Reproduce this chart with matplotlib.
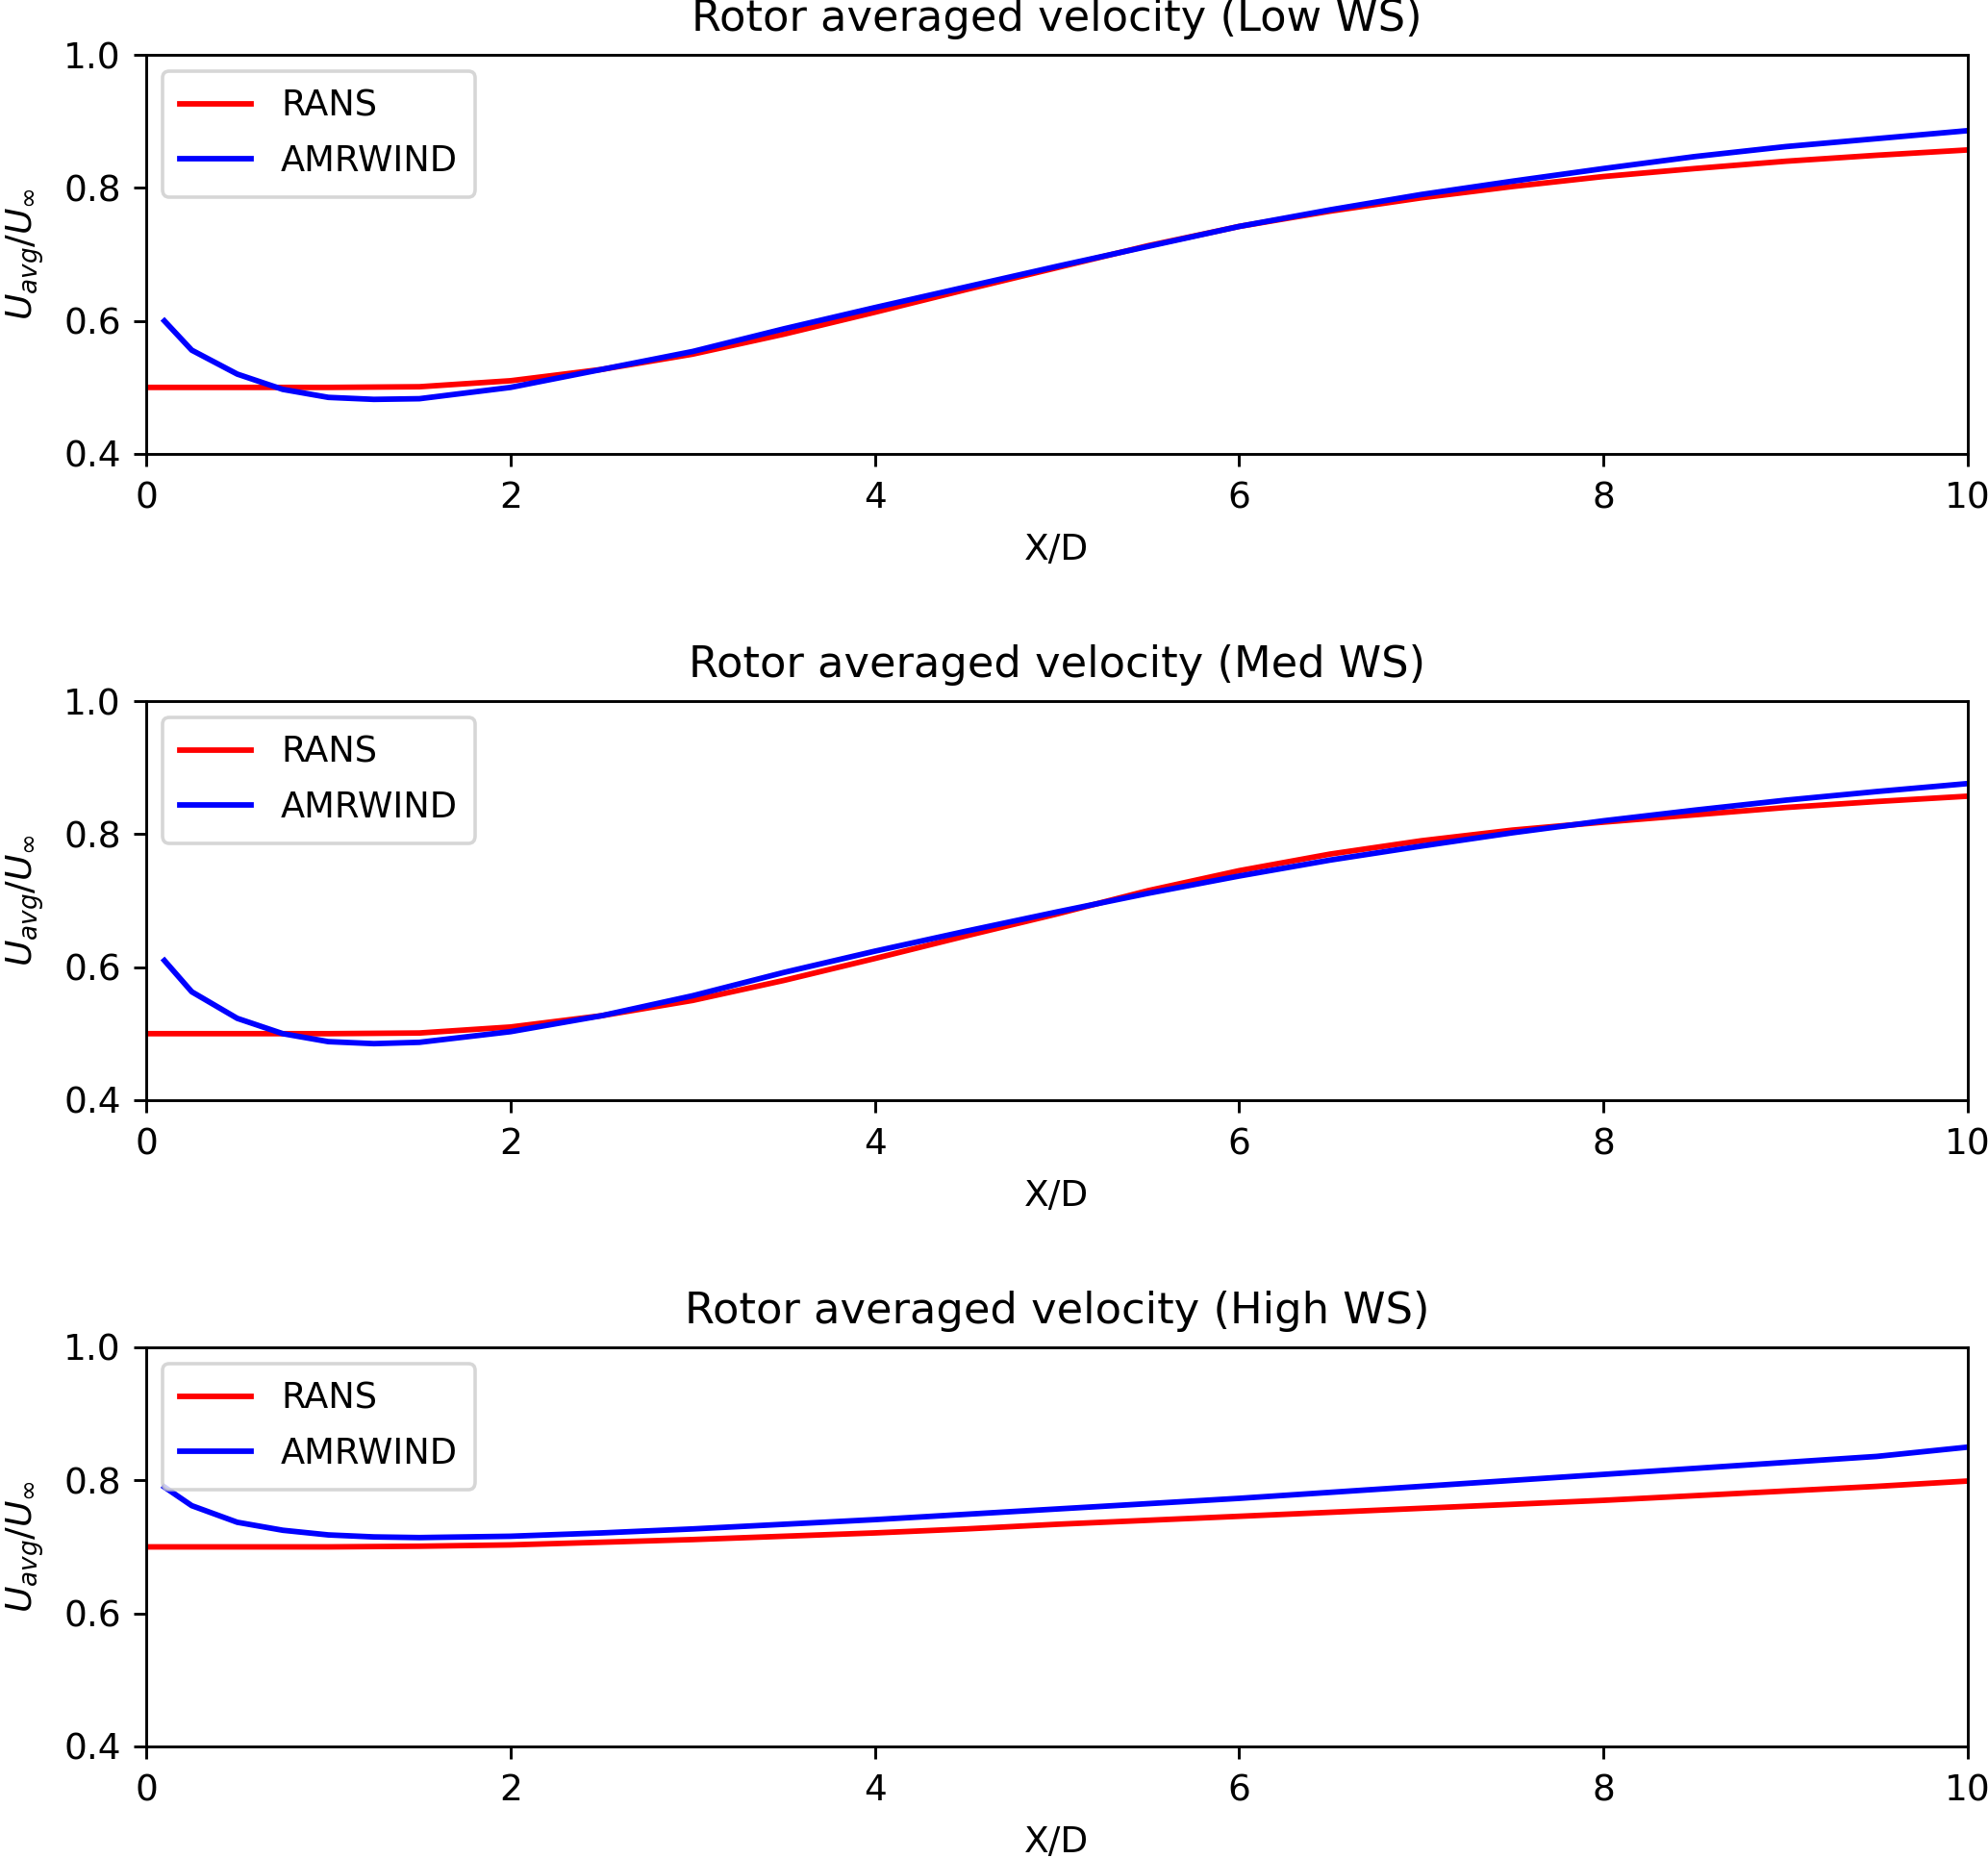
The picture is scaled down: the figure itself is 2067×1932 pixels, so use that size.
import matplotlib
matplotlib.use("Agg")
import matplotlib.pyplot as plt

# ---- data ----
titles = ["Rotor averaged velocity (Low WS)",
          "Rotor averaged velocity (Med WS)",
          "Rotor averaged velocity (High WS)"]

x_rans = [0.0, 0.5, 1.0, 1.5, 2.0, 2.5, 3.0, 3.5, 4.0, 4.5, 5.0, 5.5, 6.0, 6.5, 7.0, 7.5, 8.0, 8.5, 9.0, 9.5, 10.0]
x_amr = [0.1, 0.25, 0.5, 0.75, 1.0, 1.25, 1.5, 2.0, 2.5, 3.0, 3.5, 4.0, 4.5, 5.0, 5.5, 6.0, 6.5, 7.0, 7.5, 8.0, 8.5, 9.0, 9.5, 10.0]

rans_low = [0.500, 0.500, 0.500, 0.501, 0.510, 0.527, 0.550, 0.580, 0.613, 0.647, 0.680, 0.713, 0.742, 0.765, 0.785, 0.802, 0.817, 0.829, 0.840, 0.849, 0.857]
amr_low = [0.600, 0.556, 0.520, 0.497, 0.485, 0.482, 0.483, 0.500, 0.527, 0.554, 0.588, 0.620, 0.651, 0.682, 0.712, 0.742, 0.767, 0.790, 0.810, 0.829, 0.847, 0.862, 0.874, 0.886]

rans_med = [0.500, 0.500, 0.500, 0.501, 0.510, 0.527, 0.550, 0.580, 0.613, 0.647, 0.680, 0.715, 0.745, 0.770, 0.790, 0.806, 0.818, 0.829, 0.840, 0.849, 0.857]
amr_med = [0.610, 0.563, 0.523, 0.500, 0.488, 0.485, 0.487, 0.503, 0.527, 0.557, 0.592, 0.624, 0.654, 0.683, 0.711, 0.737, 0.761, 0.782, 0.802, 0.820, 0.836, 0.851, 0.864, 0.876]

rans_high = [0.700, 0.700, 0.700, 0.701, 0.703, 0.707, 0.711, 0.716, 0.721, 0.727, 0.734, 0.740, 0.746, 0.752, 0.758, 0.764, 0.770, 0.777, 0.784, 0.791, 0.799]
amr_high = [0.790, 0.762, 0.737, 0.725, 0.718, 0.715, 0.714, 0.716, 0.721, 0.727, 0.734, 0.741, 0.749, 0.757, 0.765, 0.773, 0.782, 0.791, 0.800, 0.809, 0.818, 0.827, 0.836, 0.850]

rans_sets = [rans_low, rans_med, rans_high]
amr_sets = [amr_low, amr_med, amr_high]

xticks = [0, 2, 4, 6, 8, 10]
yticks = [0.4, 0.6, 0.8, 1.0]

plt.rcParams["font.size"] = 10.4
plt.rcParams["axes.titlesize"] = 12.4
plt.rcParams["xtick.major.pad"] = 4.3
plt.rcParams["ytick.major.pad"] = 3.8

W, H, DPI = 2067, 1932, 260
fig = plt.figure(figsize=(W / DPI, H / DPI), dpi=DPI)

left = 152 / W
width = (2046 - 152) / W
tops = [57, 729, 1401]
ax_h = 415 / H

for i in range(3):
    bottom = 1 - tops[i] / H - ax_h
    ax = fig.add_axes([left, bottom, width, ax_h])
    ax.plot(x_rans, rans_sets[i], color="red", lw=1.6, label="RANS")
    ax.plot(x_amr, amr_sets[i], color="blue", lw=1.6, label="AMRWIND")
    ax.set_xlim(0, 10)
    ax.set_ylim(0.4, 1.0)
    ax.set_xticks(xticks)
    ax.set_yticks(yticks)
    ax.set_xlabel("X/D", labelpad=5)
    ax.set_ylabel(r"$U_{avg}/U_\infty$", labelpad=5)
    ax.set_title(titles[i], pad=7)
    ax.legend(loc="upper left", fontsize=10.2, labelspacing=0.55,
              borderpad=0.5, handletextpad=0.85, borderaxespad=0.45)

fig.savefig("out.png", dpi=DPI)
